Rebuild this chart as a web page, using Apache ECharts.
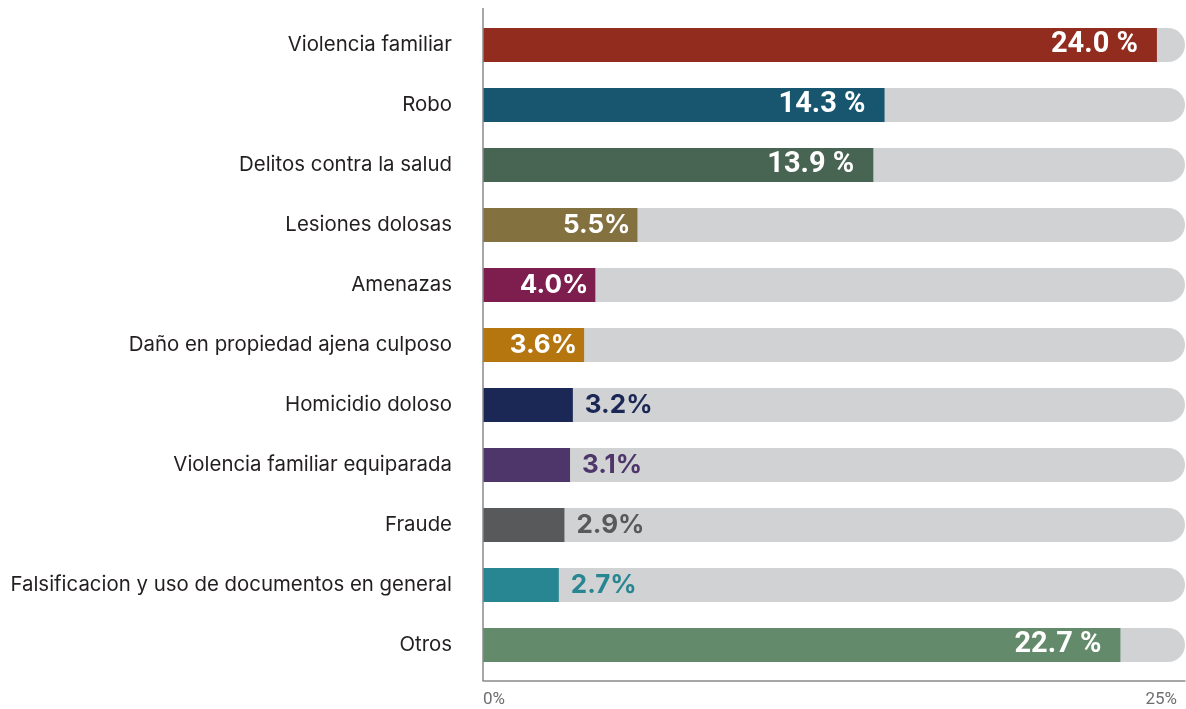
<!DOCTYPE html>
<html>
<head>
<meta charset="utf-8">
<script src="https://cdn.jsdelivr.net/npm/echarts@6/dist/echarts.min.js"></script>
<style>
html,body{margin:0;padding:0;background:#fff;}
#c{width:1186px;height:709px;}
</style>
</head>
<body>
<div id="c"></div>
<script>
const categories = [
  "Violencia familiar",
  "Robo",
  "Delitos contra la salud",
  "Lesiones dolosas",
  "Amenazas",
  "Daño en propiedad ajena culposo",
  "Homicidio doloso",
  "Violencia familiar equiparada",
  "Fraude",
  "Falsificacion y uso de documentos en general",
  "Otros"
];
const values = [24.0, 14.3, 13.9, 5.5, 4.0, 3.6, 3.2, 3.1, 2.9, 2.7, 22.7];
const xTickLabels = ["0%", "25%"];

const barColors = ["#922C1E","#17566E","#486452","#83723F","#7E1E4F","#B5760F","#1B2755","#4F366A","#58595B","#278691","#638A6B"];

const chart = echarts.init(document.getElementById('c'));

const seriesData = values.map((v, i) => {
  let label;
  if (v >= 10) {
    label = {show: true, position: 'insideRight', distance: 19, color: '#fff',
      fontFamily: '"Liberation Sans Narrow", "Roboto", sans-serif', fontWeight: 'bold', fontSize: 29,
      formatter: v.toFixed(1) + ' %'};
  } else if (v >= 3.5) {
    label = {show: true, position: 'insideRight', distance: 7, color: '#fff',
      fontFamily: 'Inter, "Noto Sans", sans-serif', fontWeight: 'bold', fontSize: 26,
      formatter: v.toFixed(1) + '%'};
  } else {
    label = {show: true, position: 'right', distance: 12, color: barColors[i],
      fontFamily: 'Inter, "Noto Sans", sans-serif', fontWeight: 'bold', fontSize: 26,
      formatter: v.toFixed(1) + '%'};
  }
  return {value: v, itemStyle: {color: barColors[i]}, label: label};
});

chart.setOption({
  animation: false,
  grid: {left: 483, right: 1, top: 15, bottom: 34, containLabel: false},
  xAxis: {
    type: 'value', min: 0, max: 25, interval: 25,
    offset: 6,
    axisLine: {show: true, lineStyle: {color: '#8a8a8a', width: 1.5}},
    axisTick: {show: false},
    splitLine: {show: false},
    axisLabel: {
      color: '#6d6e71', fontSize: 17, margin: 10,
      fontFamily: '"Liberation Sans Narrow", "Roboto", sans-serif',
      alignMinLabel: 'left', alignMaxLabel: 'right',
      padding: [0, 8, 0, 0],
      formatter: (v) => v === 0 ? xTickLabels[0] : xTickLabels[1]
    }
  },
  yAxis: {
    type: 'category', data: categories, inverse: true,
    axisLine: {show: false},
    axisTick: {show: false},
    axisLabel: {color: '#231f20', fontSize: 20.4, fontFamily: 'Inter, "Noto Sans", sans-serif', margin: 31}
  },
  graphic: [{
    type: 'line', shape: {x1: 483, y1: 8, x2: 483, y2: 681},
    style: {stroke: '#8a8a8a', lineWidth: 1.5}, z: 10
  }],
  series: [{
    type: 'bar',
    data: seriesData,
    barWidth: 34,
    showBackground: true,
    backgroundStyle: {color: '#D1D2D4', borderRadius: [0, 17, 17, 0]},
    itemStyle: {borderRadius: 0}
  }]
});
</script>
</body>
</html>
